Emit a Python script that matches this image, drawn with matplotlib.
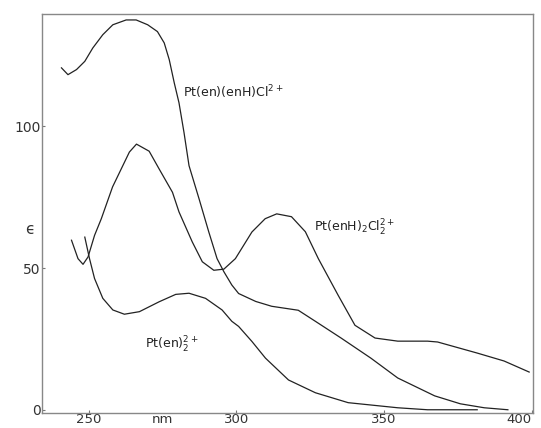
import numpy as np
import matplotlib
matplotlib.use("Agg")
import matplotlib.pyplot as plt

# (nm, epsilon)
wl_enCl = [240.8, 243.0, 245.9, 248.7, 251.4, 254.8, 258.2, 262.7, 266.1, 270.0,
           273.3, 275.6, 277.3, 279.0, 280.6, 282.3, 284.0, 287.4, 290.7, 293.5,
           295.8, 298.5, 300.8, 306.6, 312.0, 321.0, 326.8, 335.5, 345.6, 354.7,
           367.2, 375.9, 384.0, 392.0]
eps_enCl = [120.6, 118.2, 120.0, 122.9, 127.6, 132.3, 135.8, 137.5, 137.5, 135.8,
            133.4, 129.4, 123.5, 115.3, 108.3, 97.8, 86.1, 74.4, 62.7, 53.3,
            48.7, 44.0, 41.0, 38.2, 36.5, 35.1, 31.2, 25.3, 18.2, 11.2,
            4.9, 2.1, 0.7, 0.0]

wl_enH2 = [244.2, 246.4, 248.1, 249.8, 252.0, 254.3, 258.1, 263.8, 266.2, 270.5,
           273.9, 278.4, 280.6, 285.1, 288.5, 292.4, 295.8, 299.7, 305.3, 309.8,
           313.7, 318.7, 323.4, 327.8, 334.5, 340.2, 347.0, 354.7, 364.8, 368.2,
           381.6, 390.7, 399.2]
eps_enH2 = [59.8, 53.3, 51.3, 53.9, 61.5, 67.4, 78.6, 90.9, 93.7, 91.2,
            84.9, 76.7, 69.8, 59.2, 52.2, 49.2, 49.6, 53.3, 62.7, 67.4,
            69.1, 68.1, 62.8, 53.3, 40.4, 29.8, 25.3, 24.2, 24.2, 23.9,
            20.0, 17.2, 13.3]

wl_en2 = [248.7, 250.3, 252.0, 254.8, 258.2, 262.1, 267.2, 273.9, 279.5, 284.0,
          289.6, 295.2, 298.5, 300.8, 305.3, 309.9, 317.7, 326.8, 337.9, 354.7,
          364.8, 381.6]
eps_en2 = [60.9, 53.3, 46.3, 39.3, 35.2, 33.7, 34.6, 38.1, 40.7, 41.1,
           39.3, 35.2, 31.2, 29.4, 24.1, 18.2, 10.5, 6.0, 2.5, 0.7,
           0.0, 0.0]

xticks = [250, 300, 350, 400]
yticks = [0, 50, 100]

fig = plt.figure(figsize=(5.41, 4.28), dpi=100)
ax = fig.add_axes([0.0776, 0.036, 0.9076, 0.9313])

lw = 0.9
for wl, eps in [(wl_enCl, eps_enCl), (wl_enH2, eps_enH2), (wl_en2, eps_en2)]:
    ax.plot(wl, eps, color="#222222", lw=lw, solid_joinstyle="round")

ax.set_xlim(234.2, 400.5)
ax.set_ylim(-1, 139.6)
ax.set_xticks(xticks)
ax.set_yticks(yticks)
ax.tick_params(direction="in", length=2, width=0.8, pad=1, labelsize=10,
               labelcolor="#333333", color="#777777")
ax.tick_params(axis="x", pad=0, labelsize=9.5)
ax.get_xticklabels()[-1].set_horizontalalignment("right")
for s in ax.spines.values():
    s.set_color("#888888")
    s.set_linewidth(1.0)

ax.text(-0.024, 0.46, "ϵ", transform=ax.transAxes, fontsize=11, color="#333333",
        ha="center", va="center")
ax.text(275, -3.6, "nm", fontsize=9.5, color="#333333", ha="center", va="center")

ax.text(282, 112, r"Pt(en)(enH)Cl$^{2+}$", fontsize=9, color="#222222",
        ha="left", va="center")
ax.text(326.4, 64, r"Pt(enH)$_2$Cl$_2^{2+}$", fontsize=9, color="#222222",
        ha="left", va="center")
ax.text(269, 23, r"Pt(en)$_2^{2+}$", fontsize=9, color="#222222",
        ha="left", va="center")

fig.savefig("out.png", dpi=100)
